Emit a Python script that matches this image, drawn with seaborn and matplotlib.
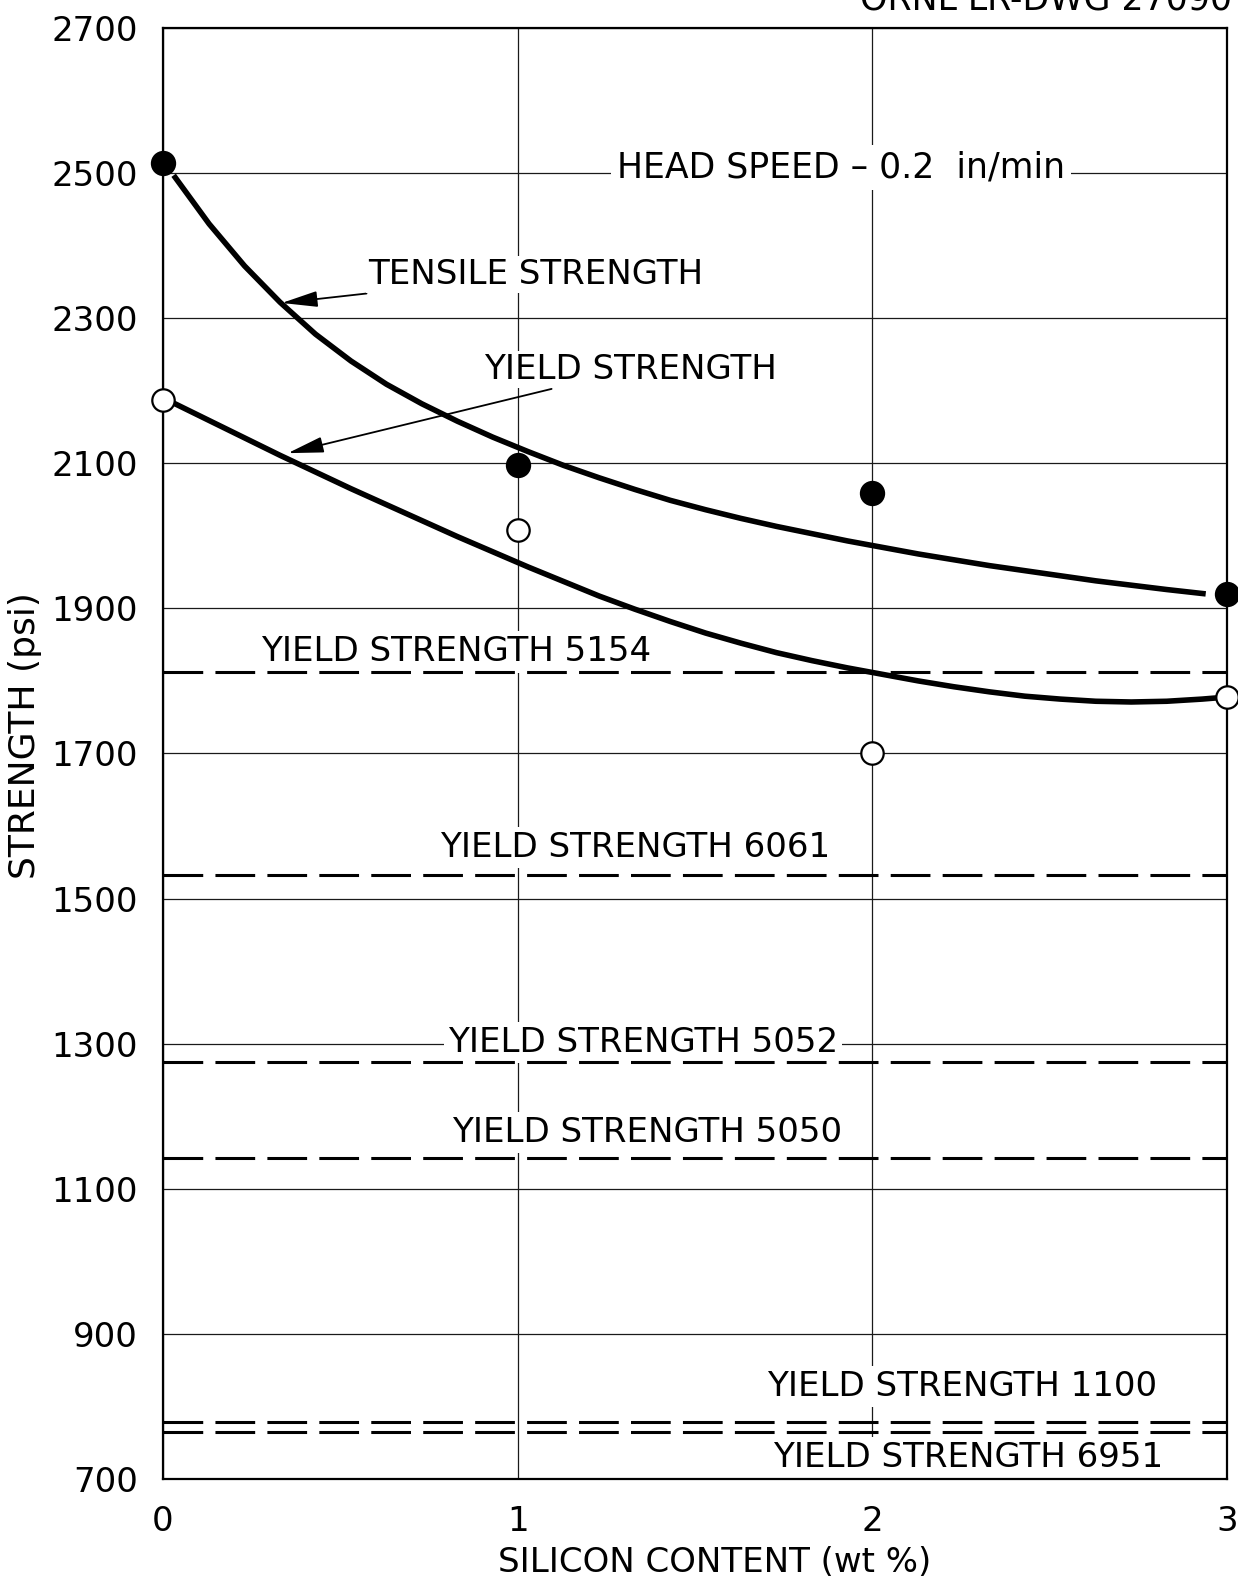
import matplotlib
matplotlib.use("Agg")
import matplotlib.pyplot as plt
import seaborn as sns
import pandas as pd

# ---------------- data ----------------
silicon = [0, 1, 2, 3]
tensile_pts = [2514, 2098, 2059, 1920]
yield_pts = [2187, 2008, 1700, 1778]

# hand-drawn fitted curves
tensile_curve_x = [0.03, 0.13, 0.23, 0.33, 0.43, 0.53, 0.63, 0.73, 0.83, 0.93,
                   1.03, 1.13, 1.23, 1.33, 1.43, 1.53, 1.63, 1.73, 1.83, 1.93,
                   2.03, 2.13, 2.23, 2.33, 2.43, 2.53, 2.63, 2.73, 2.83, 2.94]
tensile_curve_y = [2497, 2430, 2372, 2322, 2278, 2241, 2209, 2182, 2158, 2136,
                   2116, 2097, 2080, 2064, 2049, 2036, 2024, 2013, 2003, 1993,
                   1984, 1975, 1967, 1959, 1952, 1945, 1938, 1932, 1926, 1920]
yield_curve_x = [0.03, 0.13, 0.23, 0.33, 0.43, 0.53, 0.63, 0.73, 0.83, 0.93,
                 1.03, 1.13, 1.23, 1.33, 1.43, 1.53, 1.63, 1.73, 1.83, 1.93,
                 2.03, 2.13, 2.23, 2.33, 2.43, 2.53, 2.63, 2.73, 2.83, 2.93, 2.98]
yield_curve_y = [2183, 2159, 2135, 2111, 2088, 2065, 2043, 2021, 1999, 1978,
                 1957, 1937, 1917, 1899, 1882, 1866, 1852, 1839, 1828, 1818,
                 1809, 1800, 1792, 1785, 1779, 1775, 1772, 1771, 1772, 1775, 1777]

alloys = ["5154", "6061", "5052", "5050", "1100", "6951"]
alloy_yield = [1813, 1532, 1275, 1143, 779, 765]

x_ticks = [0, 1, 2, 3]
y_ticks = [700, 900, 1100, 1300, 1500, 1700, 1900, 2100, 2300, 2500, 2700]

# ---------------- style ----------------
sns.set_theme(style="white")
plt.rcParams["font.family"] = ["DejaVu Sans"]
plt.rcParams["text.color"] = "black"

W, H = 1238, 1586
fig = plt.figure(figsize=(W / 100, H / 100), dpi=100)
L, R, T, B = 163, 1227, 28, 1479
ax = fig.add_axes([L / W, 1 - B / H, (R - L) / W, (B - T) / H])

ax.set_xlim(0, 3)
ax.set_ylim(700, 2700)
ax.set_xticks(x_ticks)
ax.set_yticks(y_ticks)
ax.set_xticklabels([str(v) for v in x_ticks])
ax.set_yticklabels([str(v) for v in y_ticks])
ax.tick_params(axis="both", length=0, labelsize=24.5, colors="black")
ax.tick_params(axis="y", pad=18)
ax.tick_params(axis="x", pad=19)
ax.grid(True, color="#1a1a1a", linewidth=0.9, zorder=0)
ax.set_axisbelow(True)
for s in ax.spines.values():
    s.set_color("black")
    s.set_linewidth(1.6)
    s.set_zorder(10)

# dashed reference lines (drawn above the label boxes)
for val in alloy_yield:
    ax.plot([0, 3], [val, val], color="black", lw=2.2, dashes=(13, 4), zorder=4.5)

# curves
tc = pd.DataFrame({"x": tensile_curve_x, "y": tensile_curve_y})
yc = pd.DataFrame({"x": yield_curve_x, "y": yield_curve_y})
sns.lineplot(data=tc, x="x", y="y", ax=ax, color="black", lw=4.0, sort=False,
             estimator=None, zorder=4.6, solid_capstyle="butt", solid_joinstyle="round")
sns.lineplot(data=yc, x="x", y="y", ax=ax, color="black", lw=4.0, sort=False,
             estimator=None, zorder=4.6, solid_capstyle="butt", solid_joinstyle="round")

# points
pts = pd.DataFrame({"x": silicon, "t": tensile_pts, "y": yield_pts})
sns.scatterplot(data=pts, x="x", y="t", ax=ax, s=290, color="black",
                edgecolor="black", linewidth=1.2, zorder=11, clip_on=False)
sns.scatterplot(data=pts, x="x", y="y", ax=ax, s=260, color="white",
                edgecolor="black", linewidth=1.6, zorder=11, clip_on=False)

ax.set_xlabel("SILICON CONTENT (wt %)", fontsize=24.5, color="black")
ax.set_ylabel("STRENGTH (psi)", fontsize=26, color="black")
ax.xaxis.set_label_coords((715 - L) / (R - L), -(1562 - B) / (B - T))
ax.yaxis.set_label_coords(-(L - 25) / (R - L), (B - 736) / (B - T))
ax.xaxis.label.set_va("center")
ax.yaxis.label.set_va("center")

box = dict(facecolor="white", edgecolor="none", pad=1.5)
fs = 24.5

ax.text(1.28, 2508, "HEAD SPEED – 0.2  in/min", fontsize=25, ha="left", va="center",
        bbox=dict(facecolor="white", edgecolor="none", pad=4), zorder=4)

ax.annotate("TENSILE STRENGTH", xy=(0.335, 2321), xytext=(0.578, 2360),
            fontsize=fs, ha="left", va="center", zorder=6,
            bbox=box,
            arrowprops=dict(arrowstyle="-|>,head_length=0.9,head_width=0.2",
                            color="black", lw=1.3, shrinkA=2, shrinkB=0))
ax.annotate("YIELD STRENGTH", xy=(0.352, 2114), xytext=(0.905, 2229),
            fontsize=fs, ha="left", va="center", zorder=6,
            bbox=box,
            arrowprops=dict(arrowstyle="-|>,head_length=0.9,head_width=0.2",
                            color="black", lw=1.3, shrinkA=2, shrinkB=0))

label_pos = {
    "5154": (0.276, 1840),
    "6061": (0.781, 1570),
    "5052": (0.803, 1302),
    "5050": (0.815, 1178),
    "1100": (1.703, 827),
    "6951": (1.720, 729),
}
for name in alloys:
    x0, y0 = label_pos[name]
    ax.text(x0, y0, f"YIELD STRENGTH {name}", fontsize=fs, ha="left", va="center",
            bbox=dict(facecolor="white", edgecolor="none", pad=3), zorder=4)

fig.text(1232 / W, 1 - 0 / H, "ORNL LR-DWG 27090", fontsize=25, ha="right", va="center")

fig.savefig("out.png", dpi=100, facecolor="white")
